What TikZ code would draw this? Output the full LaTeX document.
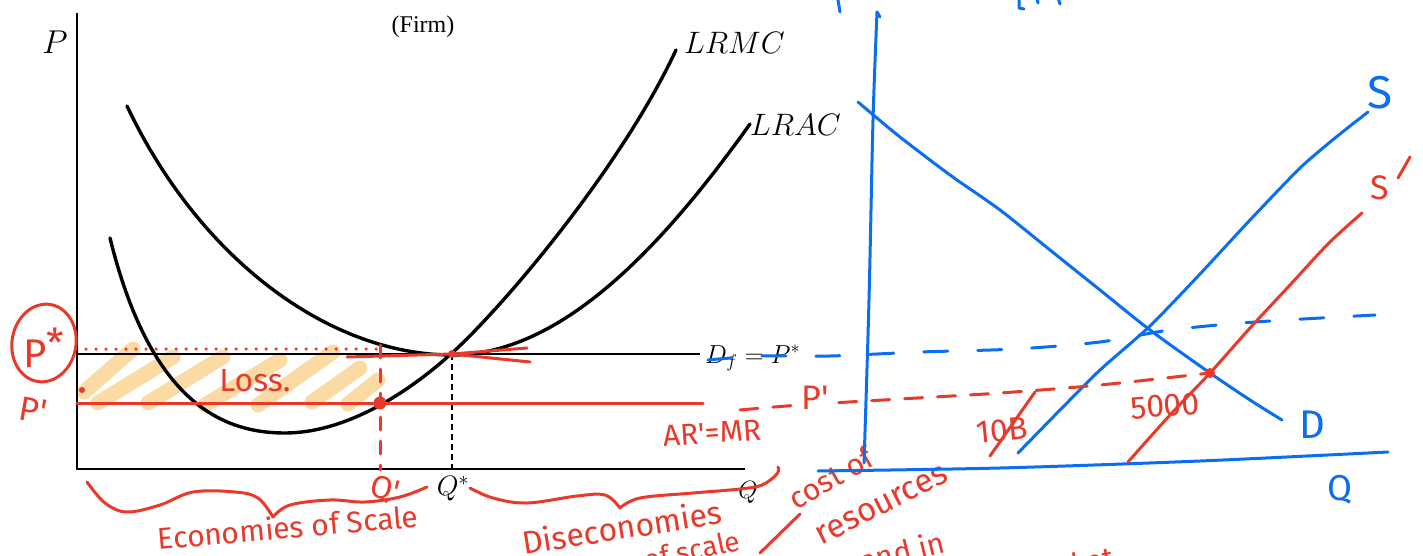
\RequirePackage{fix-cm}
\documentclass[tikz,border=0pt]{standalone}
\usepackage{fontspec}
\setmainfont{Liberation Serif}
\newfontfamily\hand{Fira Sans}
\usetikzlibrary{shapes.geometric}
\definecolor{mred}{HTML}{E8392A}
\definecolor{mblue}{HTML}{0A6EF0}
\definecolor{hatchc}{HTML}{F9CD84}
\begin{document}
\begin{tikzpicture}[x=1pt,y=-1pt,
  axis/.style={line width=2.4pt, black},
  curve/.style={line width=3.4pt, black, line cap=round},
  redpen/.style={line width=3pt, mred, line cap=round, line join=round},
  bluepen/.style={line width=3pt, mblue, line cap=round, line join=round},
  hatchstroke/.style={line width=15pt, hatchc, opacity=0.75, line cap=round},
  lbl/.style={font=\fontsize{28}{30}\selectfont, inner sep=0},
  handred/.style={font=\hand\fontsize{30}{32}\selectfont, text=mred, inner sep=0},
  handblue/.style={font=\hand\fontsize{40}{42}\selectfont, text=mblue, inner sep=0},
]
\useasboundingbox (0,0) rectangle (1423,556);
\clip (0,0) rectangle (1423,556);

% ---------- loss hatch ----------
\draw[hatchstroke] (84,392) -- (133,349);
\draw[hatchstroke] (98,403) -- (173,357);
\draw[hatchstroke] (148,403) -- (223,357);
\draw[hatchstroke] (205,405) -- (280,360);
\draw[hatchstroke] (258,405) -- (333,352);
\draw[hatchstroke] (312,402) -- (360,368);
\draw[hatchstroke] (348,404) -- (378,380);

% ---------- firm diagram ----------
\coordinate (O) at (77,469);
\coordinate (Ytop) at (77,13);
\coordinate (Xend) at (745,469);
\draw[axis] (Ytop) -- (O) -- (Xend);
\coordinate (DfL) at (77,354);
\coordinate (E) at (452,354);
\coordinate (DfR) at (700,354);
\draw[line width=2pt] (DfL) -- (DfR);
\coordinate (Eq) at (452,469);
\draw[line width=1.1pt, dash pattern=on 6pt off 4pt] (E) -- (Eq);

% LRAC
\draw[curve] (127,106) .. controls (200,260) and (330,355) .. (452,355)
  .. controls (560,355) and (660,250) .. (750,124);
% LRMC
\draw[curve] (110,238) .. controls (150,400) and (220,433) .. (285,433)
  .. controls (340,433) and (400,400) .. (452,353)
  .. controls (500,310) and (620,170) .. (676,50);

\node[lbl, font=\fontsize{33}{35}\selectfont] (P) at (55,42) {$P$};
\node[font=\fontsize{24}{26}\selectfont, inner sep=0] (firm) at (423,27) {(Firm)};
\node[lbl, font=\fontsize{31}{33}\selectfont, anchor=west] (lrmc) at (684,43) {$LRMC$};
\node[lbl, font=\fontsize{31}{33}\selectfont, anchor=west] (lrac) at (750,125) {$LRAC$};
\node[lbl, font=\fontsize{26}{28}\selectfont, anchor=west] (df) at (705,358) {$D_f = P^{*}$};
\node[lbl] (qs) at (453,489) {$Q^{*}$};
\node[lbl, font=\fontsize{25}{27}\selectfont] (q) at (748,492) {$Q$};

% ---------- red annotations on firm ----------
\coordinate (RL) at (77,403);
\coordinate (RR) at (703,403);
\draw[redpen] (RL) -- (RR);
\coordinate (DotL) at (86,349);
\coordinate (DotR) at (378,349);
\draw[mred, line width=3.5pt, line cap=round, dash pattern=on 0pt off 10pt] (DotL) -- (DotR);
\coordinate (A) at (380,403);
\coordinate (Atop) at (380,345);
\coordinate (Abot) at (380,470);
\draw[redpen, dash pattern=on 13pt off 11pt] (Atop) -- (Abot);
\fill[mred] (A) circle (6.5);
\draw[redpen] (347,357) -- (E) -- (530,362);
\draw[redpen] (E) -- (527,348);
\fill[mred] (E) circle (4);
\fill[mred] (82,390) circle (3);

\node[handred, font=\hand\fontsize{32}{34}\selectfont] (loss) at (255,381) {Loss.};
\node[draw=mred, line width=3pt, ellipse, rotate=-10, minimum width=64pt, minimum height=78pt, inner sep=0] (pcirc) at (44,343) {};
\node[handred, font=\hand\fontsize{40}{42}\selectfont] (pstar) at (44,348) {P\raisebox{10pt}{*}};
\node[handred, font=\hand\fontsize{34}{36}\selectfont, rotate=-10] (pprime) at (33,410) {P'};
\node[handred, font=\hand\fontsize{30}{32}\selectfont, rotate=4] (armr) at (712,433) {AR'=MR};

% braces
\draw[redpen] plot[smooth, tension=0.6] coordinates {(87,482) (105,503) (127,512) (160,505) (193,492) (235,492) (258,498) (273,517)};
\draw[redpen] plot[smooth, tension=0.6] coordinates {(273,517) (290,505) (330,500) (365,502) (400,497) (427,487)};
\node[handred, font=\hand\fontsize{32}{34}\selectfont, rotate=-15] (qprime) at (385,490) {Q'};
\node[handred, font=\hand\fontsize{30}{32}\selectfont, rotate=5] (eos) at (288,527) {Economies of Scale};

\draw[redpen] plot[smooth, tension=0.6] coordinates {(470,488) (493,498) (527,503) (577,496) (605,495) (620,508)};
\draw[redpen] plot[smooth, tension=0.6] coordinates {(620,508) (640,498) (693,493) (740,489) (762,485) (777,474) (778,467)};
\node[handred, font=\hand\fontsize{32}{34}\selectfont, rotate=9] (dis) at (622,527) {Diseconomies};
\node[handred, font=\hand\fontsize{28}{30}\selectfont, rotate=12] (ofs) at (692,550) {of scale};
\coordinate (sl1) at (760,553);
\coordinate (sl2) at (800,514);
\draw[redpen] (sl1) -- (sl2);
\node[handred, font=\hand\fontsize{30}{32}\selectfont, rotate=30] (cost) at (831,478) {cost of};
\node[handred, font=\hand\fontsize{33}{35}\selectfont, rotate=27] (res) at (882,505) {resources};
\node[handred, font=\hand\fontsize{30}{32}\selectfont, rotate=14] (andin) at (902,551) {and in};
\node[handred, font=\hand\fontsize{30}{32}\selectfont, rotate=10] (mkt) at (1040,570) {the market};

% ---------- market diagram (blue) ----------
\draw[bluepen] plot[smooth] coordinates {(877,12) (873,120) (869,300) (864,463)};
\draw[bluepen] (877,12) -- (880,17);
\draw[bluepen] (838,0) -- (840,12);
\draw[bluepen] (1019,-2) -- (1019,8) -- (1024,9);
\draw[bluepen] (1037,-2) -- (1038,3);
\draw[bluepen] (1058,-2) -- (1060,4);
\coordinate (HX1) at (818,471);
\coordinate (HX2) at (1388,452);
\draw[bluepen] plot[smooth] coordinates {(HX1) (1000,468) (1200,461) (HX2)};

% D
\draw[bluepen] plot[smooth, tension=0.5] coordinates {(858,102) (871,113) (900,137) (950,175) (1000,210) (1050,250) (1100,290) (1150,330) (1210,373) (1250,400) (1282,420)};
% S
\draw[bluepen] plot[smooth, tension=0.4] coordinates {(1018,453) (1060,410) (1100,370) (1150,326) (1200,274) (1250,220) (1300,168) (1335,138) (1368,112)};
\node[handblue, font=\hand\fontsize{46}{48}\selectfont] (Slbl) at (1380,93) {S};
\node[handblue] (Dlbl) at (1312,425) {D};
\node[handblue, font=\hand\fontsize{36}{38}\selectfont] (Qlbl) at (1340,490) {Q};

% blue dashed price line
\draw[bluepen, dash pattern=on 24pt off 30pt] plot[smooth] coordinates {(708,360) (760,356) (830,356) (920,352) (1015,349) (1100,342) (1170,330) (1255,322) (1375,315)};

% S' (red)
\draw[redpen] plot[smooth, tension=0.5] coordinates {(1128,462) (1170,415) (1210,373) (1250,328) (1290,285) (1325,247) (1345,228) (1362,213)};
\node[handred, font=\hand\fontsize{34}{36}\selectfont] (Sp) at (1380,188) {S};
\draw[redpen] (1398,178) -- (1410,157);
\coordinate (E2) at (1210,373);
\fill[mred] (E2) circle (5);
% red dashed P'
\draw[redpen, dash pattern=on 18pt off 15pt] plot[smooth] coordinates {(740,410) (800,405) (900,399) (1000,393) (1100,385) (E2)};
\node[handred, font=\hand\fontsize{34}{36}\selectfont, fill=white, inner sep=1pt] (Pp) at (815,398) {P'};
\node[handred, font=\hand\fontsize{32}{34}\selectfont, rotate=6] (tenb) at (1002,430) {10B};
\draw[redpen] (990,456) -- (1035,392);
\node[handred, font=\hand\fontsize{32}{34}\selectfont, rotate=4] (fivek) at (1165,406) {5000};
\end{tikzpicture}
\end{document}
